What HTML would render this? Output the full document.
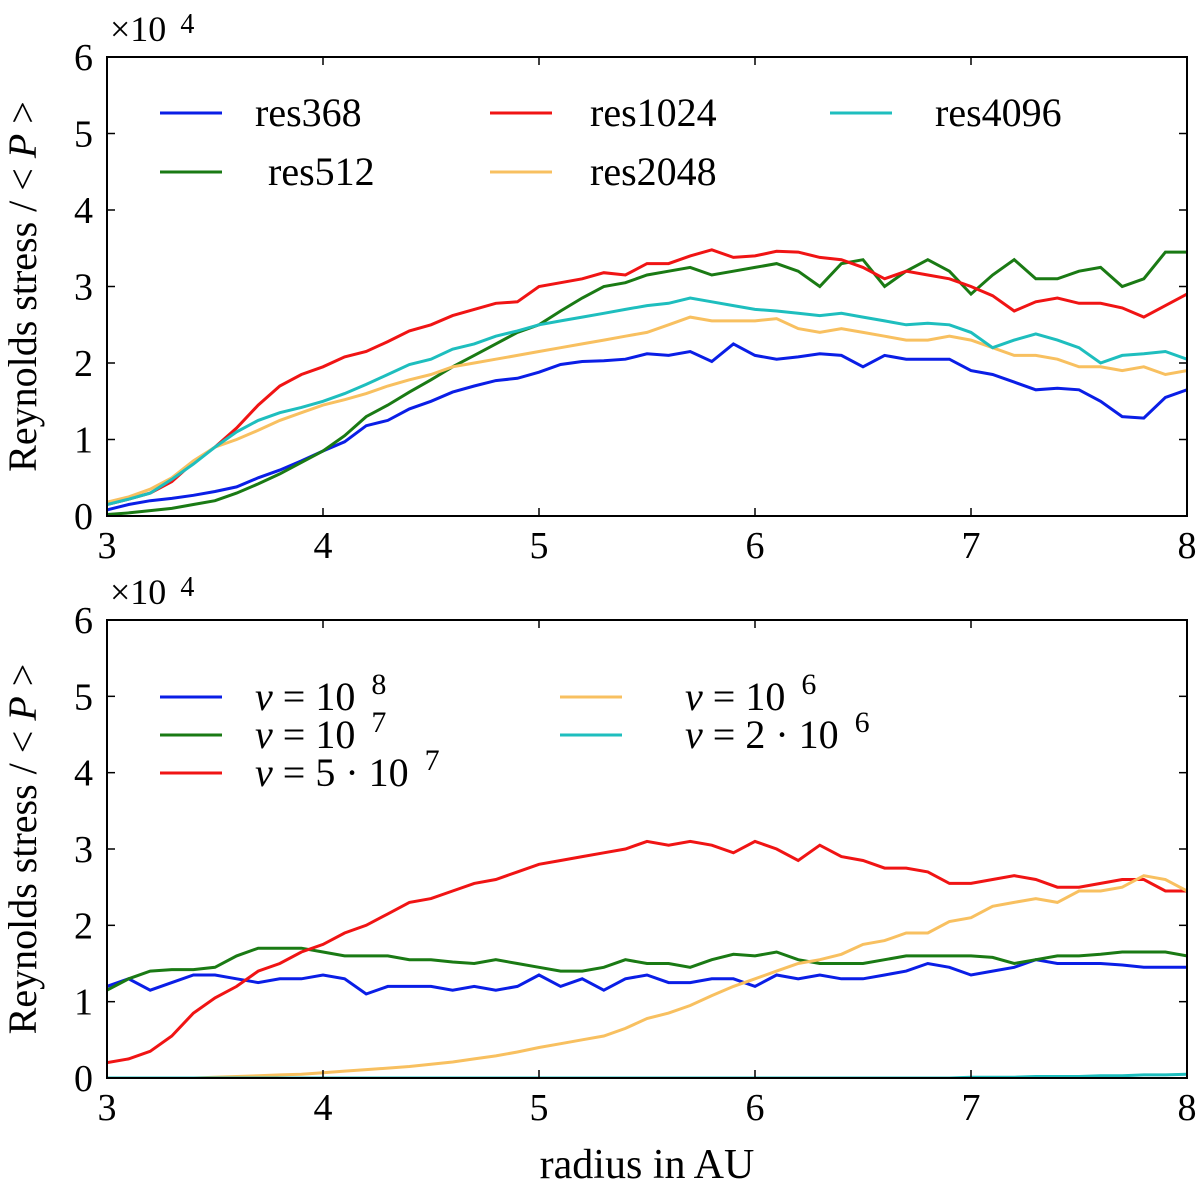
<!DOCTYPE html>
<html><head><meta charset="utf-8">
<style>
html,body{margin:0;padding:0;background:#fff;}
svg text{font-family:"Liberation Serif","DejaVu Serif",serif;fill:#000;}
</style></head>
<body>
<svg id="fig" width="1200" height="1191" viewBox="0 0 1200 1191" xmlns="http://www.w3.org/2000/svg">
<g id="top"></g>
<g id="bot"></g>
<text x="647" y="1178" font-size="42" text-anchor="middle">radius in AU</text>
</svg>
<script>
const radius=[3.0,3.1,3.2,3.3,3.4,3.5,3.6,3.7,3.8,3.9,4.0,4.1,4.2,4.3,4.4,4.5,4.6,4.7,4.8,4.9,5.0,5.1,5.2,5.3,5.4,5.5,5.6,5.7,5.8,5.9,6.0,6.1,6.2,6.3,6.4,6.5,6.6,6.7,6.8,6.9,7.0,7.1,7.2,7.3,7.4,7.5,7.6,7.7,7.8,7.9,8.0];
const xTicks=[3,4,5,6,7,8];
const yTicks=[0,1,2,3,4,5,6];
const res368=[0.08,0.15,0.2,0.23,0.27,0.32,0.38,0.5,0.6,0.72,0.85,0.97,1.18,1.25,1.4,1.5,1.62,1.7,1.77,1.8,1.88,1.98,2.02,2.03,2.05,2.12,2.1,2.15,2.02,2.25,2.1,2.05,2.08,2.12,2.1,1.95,2.1,2.05,2.05,2.05,1.9,1.85,1.75,1.65,1.67,1.65,1.5,1.3,1.28,1.55,1.65];
const res512=[0.02,0.04,0.07,0.1,0.15,0.2,0.3,0.42,0.55,0.7,0.85,1.05,1.3,1.45,1.62,1.78,1.95,2.1,2.25,2.4,2.5,2.68,2.85,3.0,3.05,3.15,3.2,3.25,3.15,3.2,3.25,3.3,3.2,3.0,3.3,3.35,3.0,3.2,3.35,3.2,2.9,3.15,3.35,3.1,3.1,3.2,3.25,3.0,3.1,3.45,3.45];
const res1024=[0.15,0.22,0.3,0.45,0.7,0.9,1.15,1.45,1.7,1.85,1.95,2.08,2.15,2.28,2.42,2.5,2.62,2.7,2.78,2.8,3.0,3.05,3.1,3.18,3.15,3.3,3.3,3.4,3.48,3.38,3.4,3.46,3.45,3.38,3.35,3.25,3.1,3.2,3.15,3.1,3.0,2.88,2.68,2.8,2.85,2.78,2.78,2.72,2.6,2.75,2.9];
const res2048=[0.18,0.25,0.35,0.5,0.72,0.9,1.0,1.12,1.25,1.35,1.45,1.52,1.6,1.7,1.78,1.85,1.95,2.0,2.05,2.1,2.15,2.2,2.25,2.3,2.35,2.4,2.5,2.6,2.55,2.55,2.55,2.58,2.45,2.4,2.45,2.4,2.35,2.3,2.3,2.35,2.3,2.2,2.1,2.1,2.05,1.95,1.95,1.9,1.95,1.85,1.9];
const res4096=[0.15,0.22,0.3,0.48,0.68,0.9,1.1,1.25,1.35,1.42,1.5,1.6,1.72,1.85,1.98,2.05,2.18,2.25,2.35,2.42,2.5,2.55,2.6,2.65,2.7,2.75,2.78,2.85,2.8,2.75,2.7,2.68,2.65,2.62,2.65,2.6,2.55,2.5,2.52,2.5,2.4,2.2,2.3,2.38,2.3,2.2,2.0,2.1,2.12,2.15,2.05];
const nu1e8=[1.2,1.3,1.15,1.25,1.35,1.35,1.3,1.25,1.3,1.3,1.35,1.3,1.1,1.2,1.2,1.2,1.15,1.2,1.15,1.2,1.35,1.2,1.3,1.15,1.3,1.35,1.25,1.25,1.3,1.3,1.2,1.35,1.3,1.35,1.3,1.3,1.35,1.4,1.5,1.45,1.35,1.4,1.45,1.55,1.5,1.5,1.5,1.48,1.45,1.45,1.45];
const nu1e7=[1.15,1.3,1.4,1.42,1.42,1.45,1.6,1.7,1.7,1.7,1.65,1.6,1.6,1.6,1.55,1.55,1.52,1.5,1.55,1.5,1.45,1.4,1.4,1.45,1.55,1.5,1.5,1.45,1.55,1.62,1.6,1.65,1.55,1.5,1.5,1.5,1.55,1.6,1.6,1.6,1.6,1.58,1.5,1.55,1.6,1.6,1.62,1.65,1.65,1.65,1.6];
const nu5e7=[0.2,0.25,0.35,0.55,0.85,1.05,1.2,1.4,1.5,1.65,1.75,1.9,2.0,2.15,2.3,2.35,2.45,2.55,2.6,2.7,2.8,2.85,2.9,2.95,3.0,3.1,3.05,3.1,3.05,2.95,3.1,3.0,2.85,3.05,2.9,2.85,2.75,2.75,2.7,2.55,2.55,2.6,2.65,2.6,2.5,2.5,2.55,2.6,2.6,2.45,2.45];
const nu1e6=[0,0,0,0,0,0.01,0.02,0.03,0.04,0.05,0.07,0.09,0.11,0.13,0.15,0.18,0.21,0.25,0.29,0.34,0.4,0.45,0.5,0.55,0.65,0.78,0.85,0.95,1.08,1.2,1.3,1.4,1.5,1.55,1.62,1.75,1.8,1.9,1.9,2.05,2.1,2.25,2.3,2.35,2.3,2.45,2.45,2.5,2.65,2.6,2.45];
const nu2e6=[0,0,0,0,0,0,0,0,0,0,0,0,0,0,0,0,0,0,0,0,0,0,0,0,0,0,0,0,0,0,0,0,0,0,0,0,0,0,0,0,0.01,0.01,0.01,0.02,0.02,0.02,0.03,0.03,0.04,0.04,0.05];

const NS='http://www.w3.org/2000/svg';
function mk(tag,attrs,parent){const e=document.createElementNS(NS,tag);for(const k in attrs)e.setAttribute(k,attrs[k]);parent.appendChild(e);return e;}
const X0=107,X1=1187;
function xs(v){return X0+(v-3)/5*(X1-X0);}

function panel(g,top,bottom,series,legend,name){
  const ys=v=>bottom-v/6*(bottom-top);
  const clip=mk('clipPath',{id:'c'+name},g);
  mk('rect',{x:X0,y:top,width:X1-X0,height:bottom-top},clip);
  series.forEach(s=>{
    const d=radius.map((r,i)=>(i?'L':'M')+xs(r).toFixed(1)+' '+ys(s.v[i]).toFixed(1)).join(' ');
    const p=mk('path',{d:d,fill:'none',stroke:s.c,'stroke-width':3,'clip-path':'url(#c'+name+')'},g);
    
    
  });
  const fr=mk('rect',{x:X0,y:top,width:X1-X0,height:bottom-top,fill:'none',stroke:'#000','stroke-width':2},g);
  
  
  xTicks.forEach(t=>{
    mk('line',{x1:xs(t),x2:xs(t),y1:bottom,y2:bottom-8,stroke:'#000','stroke-width':1.5},g);
    mk('line',{x1:xs(t),x2:xs(t),y1:top,y2:top+8,stroke:'#000','stroke-width':1.5},g);
    const tx=mk('text',{x:xs(t),y:bottom+42,'font-size':38,'text-anchor':'middle'},g);
    tx.textContent=t;
    
    
  });
  yTicks.forEach(t=>{
    mk('line',{x1:X0,x2:X0+8,y1:ys(t),y2:ys(t),stroke:'#000','stroke-width':1.5},g);
    mk('line',{x1:X1,x2:X1-8,y1:ys(t),y2:ys(t),stroke:'#000','stroke-width':1.5},g);
    const tx=mk('text',{x:X0-14,y:ys(t)+13,'font-size':38,'text-anchor':'end'},g);
    tx.textContent=t;
    
    
  });
  const m=mk('text',{x:110,y:top-16,'font-size':36},g);
  m.innerHTML='×10<tspan dx="14" dy="-8" font-size="28">4</tspan>';
  
  
  const yl=mk('text',{x:0,y:0,'font-size':40,'text-anchor':'middle',transform:'translate(36 '+((top+bottom)/2)+') rotate(-90)'},g);
  yl.innerHTML='Reynolds stress / &lt; <tspan font-style="italic">P</tspan> &gt;';
  
  
  legend.forEach(l=>{
    const lg=mk('g',{},g);
    
    
    mk('line',{x1:l.x,x2:l.x+62,y1:l.y,y2:l.y,stroke:l.c,'stroke-width':3},lg);
    const t=mk('text',{x:l.tx,y:l.y+13,'font-size':40},lg);
    t.innerHTML=l.t;
  });
}
panel(document.getElementById('top'),57,516,[
 {n:'res368',c:'#0a1ee6',v:res368},{n:'res512',c:'#1a7a14',v:res512},{n:'res1024',c:'#f01414',v:res1024},
 {n:'res2048',c:'#f8c060',v:res2048},{n:'res4096',c:'#1ebebe',v:res4096}],[
 {n:'res368',c:'#0a1ee6',x:160,tx:255,y:113,t:'res368'},
 {n:'res512',c:'#1a7a14',x:160,tx:268,y:172,t:'res512'},
 {n:'res1024',c:'#f01414',x:490,tx:590,y:113,t:'res1024'},
 {n:'res2048',c:'#f8c060',x:490,tx:590,y:172,t:'res2048'},
 {n:'res4096',c:'#1ebebe',x:830,tx:935,y:113,t:'res4096'}],'top');
const nu='<tspan font-style="italic">ν</tspan> = ';
panel(document.getElementById('bot'),620,1078,[
 {n:'nu-1e-8',c:'#0a1ee6',v:nu1e8},{n:'nu-1e-7',c:'#1a7a14',v:nu1e7},{n:'nu-5e-7',c:'#f01414',v:nu5e7},
 {n:'nu-1e-6',c:'#f8c060',v:nu1e6},{n:'nu-2e-6',c:'#1ebebe',v:nu2e6}],[
 {n:'nu-1e-8',c:'#0a1ee6',x:160,tx:255,y:697,t:nu+'10<tspan dx="16" dy="-16" font-size="30">8</tspan>'},
 {n:'nu-1e-7',c:'#1a7a14',x:160,tx:255,y:735,t:nu+'10<tspan dx="16" dy="-16" font-size="30">7</tspan>'},
 {n:'nu-5e-7',c:'#f01414',x:160,tx:255,y:773,t:nu+'5 · 10<tspan dx="16" dy="-16" font-size="30">7</tspan>'},
 {n:'nu-1e-6',c:'#f8c060',x:560,tx:685,y:697,t:nu+'10<tspan dx="16" dy="-16" font-size="30">6</tspan>'},
 {n:'nu-2e-6',c:'#1ebebe',x:560,tx:685,y:735,t:nu+'2 · 10<tspan dx="16" dy="-16" font-size="30">6</tspan>'}],'bot');
</script>
</body></html>
